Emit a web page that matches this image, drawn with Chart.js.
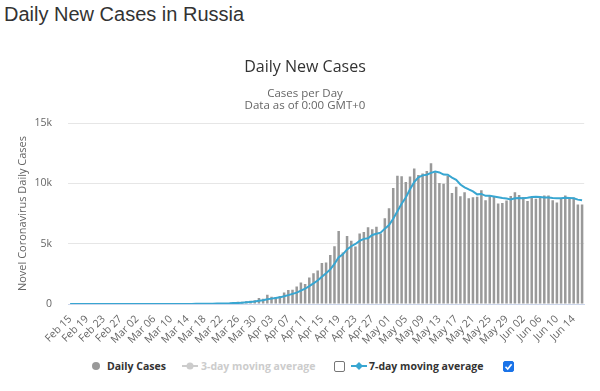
<!DOCTYPE html>
<html>
<head>
<meta charset="utf-8">
<script src="https://cdn.jsdelivr.net/npm/chart.js@4.4.1/dist/chart.umd.min.js"></script>
<style>
  body { margin:0; width:600px; height:391px; background:#fff; position:relative; overflow:hidden; font-family:'Open Sans',sans-serif; }
  #pageTitle { position:absolute; left:4px; top:4px; font:20px/20px 'Liberation Sans',Arial,sans-serif; color:#333; white-space:nowrap; }
  #chartTitle { position:absolute; left:0; top:56px; width:610px; text-align:center; font:16px/20px 'Open Sans',sans-serif; color:#333; }
  #chartSub { position:absolute; left:0; top:87px; width:610px; text-align:center; font:11.5px/11.7px 'Open Sans',sans-serif; color:#666; }
  #wrap { position:absolute; left:0; top:40px; width:600px; height:312px; }
  #legend { position:absolute; left:0; top:358px; width:600px; height:16px; font:bold 10.5px/16px 'Open Sans',sans-serif; }
  #legend > * { position:absolute; }
  .txt { top:0; white-space:nowrap; }
  .box { top:3px; width:9px; height:9px; border:1px solid #767676; border-radius:2px; background:#fff; }
  .box.on { border-color:#1a73e8; background:#1a73e8; }
</style>
</head>
<body>
<div id="pageTitle">Daily New Cases in Russia</div>
<div id="wrap"><canvas id="chart" width="600" height="312"></canvas></div>
<div id="chartTitle">Daily New Cases</div>
<div id="chartSub">Cases per Day<br>Data as of 0:00 GMT+0</div>
<div id="legend">
  <svg style="left:92px;top:4px" width="8" height="8"><circle cx="4" cy="4" r="4" fill="#999"/></svg>
  <span class="txt" style="left:107px;color:#333">Daily Cases</span>
  <svg style="left:182px;top:3px" width="16" height="10"><line x1="0" y1="5" x2="16" y2="5" stroke="#ccc" stroke-width="2"/><circle cx="8" cy="5" r="3.5" fill="#ccc"/></svg>
  <span class="txt" style="left:201px;color:#ccc">3-day moving average</span>
  <div class="box" style="left:334px"></div>
  <svg style="left:351px;top:3px" width="16" height="10"><line x1="0" y1="5" x2="16" y2="5" stroke="#38a6d1" stroke-width="2"/><path d="M8 1 L12 5 L8 9 L4 5 Z" fill="#38a6d1"/></svg>
  <span class="txt" style="left:369px;color:#333">7-day moving average</span>
  <div class="box on" style="left:503px"><svg width="9" height="9" style="position:absolute;left:0;top:0"><path d="M1.5 4.8 L3.7 7 L7.6 2.2" stroke="#fff" stroke-width="1.6" fill="none"/></svg></div>
</div>
<script>
// x categories, one per day
const dates = [
  'Feb 15','Feb 16','Feb 17','Feb 18','Feb 19','Feb 20','Feb 21','Feb 22','Feb 23','Feb 24','Feb 25','Feb 26','Feb 27','Feb 28','Feb 29',
  'Mar 01','Mar 02','Mar 03','Mar 04','Mar 05','Mar 06','Mar 07','Mar 08','Mar 09','Mar 10','Mar 11','Mar 12','Mar 13','Mar 14','Mar 15',
  'Mar 16','Mar 17','Mar 18','Mar 19','Mar 20','Mar 21','Mar 22','Mar 23','Mar 24','Mar 25','Mar 26','Mar 27','Mar 28','Mar 29','Mar 30','Mar 31',
  'Apr 01','Apr 02','Apr 03','Apr 04','Apr 05','Apr 06','Apr 07','Apr 08','Apr 09','Apr 10','Apr 11','Apr 12','Apr 13','Apr 14','Apr 15',
  'Apr 16','Apr 17','Apr 18','Apr 19','Apr 20','Apr 21','Apr 22','Apr 23','Apr 24','Apr 25','Apr 26','Apr 27','Apr 28','Apr 29','Apr 30',
  'May 01','May 02','May 03','May 04','May 05','May 06','May 07','May 08','May 09','May 10','May 11','May 12','May 13','May 14','May 15',
  'May 16','May 17','May 18','May 19','May 20','May 21','May 22','May 23','May 24','May 25','May 26','May 27','May 28','May 29','May 30','May 31',
  'Jun 01','Jun 02','Jun 03','Jun 04','Jun 05','Jun 06','Jun 07','Jun 08','Jun 09','Jun 10','Jun 11','Jun 12','Jun 13','Jun 14','Jun 15','Jun 16'
];

const dailyCases = [
  0,0,0,0,0,0,0,0,0,0,0,0,0,0,0,0,
  1,0,0,1,6,0,3,0,3,8,6,17,14,4,30,21,33,52,54,53,61,71,57,163,182,196,228,270,302,501,
  440,771,601,582,658,954,1154,1175,1459,1786,1667,2186,2558,2774,3388,3448,4070,4785,6060,4268,5642,5236,4774,5849,5966,6361,6198,6411,5841,7099,
  7933,9623,10633,10581,10102,10559,11231,10699,10817,11012,11656,10899,10028,9974,10598,9200,9709,8926,9263,8764,8849,8894,9434,8599,8946,8915,8338,8371,8572,8952,9268,
  9035,8863,8536,8831,8726,8855,8984,8985,8595,8404,8779,8987,8706,8835,8246,8248
];

const avg7 = [
  0,0,0,0,0,0,0,0,0,0,0,0,0,0,0,0,
  0,0,0,0,1,1,2,1,2,3,4,5,7,7,12,14,18,24,30,35,43,49,54,73,92,112,137,167,200,263,
  303,387,445,495,551,644,737,842,940,1110,1265,1483,1712,1944,2260,2544,2870,3316,3869,4113,4523,4787,4976,5231,5399,5442,5718,5828,5914,6246,
  6544,7067,7677,8303,8830,9504,10095,10490,10660,10714,10868,10982,10906,10726,10712,10481,10295,9905,9671,9491,9330,9086,9120,8961,8964,8914,8854,8785,8739,8670,8766,
  8779,8771,8800,8865,8887,8873,8833,8826,8787,8769,8761,8798,8777,8756,8650,8601
];

const yMax = 15000;
const yStep = 5000;
const LINE_COLOR = '#38a6d1';
const BAR_COLOR  = '#999999';

Chart.defaults.font.family = "'Open Sans', sans-serif";

new Chart(document.getElementById('chart'), {
  type: 'bar',
  data: {
    labels: dates,
    datasets: [
      { type:'line', label:'7-day moving average', data:avg7, borderColor:LINE_COLOR, borderWidth:2,
        pointRadius:0, tension:0, fill:false, order:0 },
      { type:'bar', label:'Daily Cases', data:dailyCases, backgroundColor:BAR_COLOR,
        categoryPercentage:1, barPercentage:0.6, order:1 }
    ]
  },
  options: {
    responsive: false,
    animation: false,
    layout: { padding: { left:0, right:5, top:83, bottom:0 } },
    plugins: {
      legend: { display:false },
      tooltip: { enabled:false }
    },
    scales: {
      x: {
        grid: { display:false, drawTicks:false },
        border: { color:'#ccd6eb' },
        ticks: {
          autoSkip:false, minRotation:45, maxRotation:45, padding:9, color:'#666', font:{ size:10.5 },
          callback(v, i) { return i % 4 === 0 ? this.getLabelForValue(v) : ''; }
        },
        afterFit(s) { s.height = 48; }
      },
      y: {
        min:0, max:yMax,
        grid: { color:'#e6e6e6', drawTicks:false },
        border: { display:false },
        ticks: { stepSize:yStep, padding:16, color:'#666', font:{ size:10.5 },
          callback: v => v === 0 ? '0' : (v / 1000) + 'k' },
        title: { display:true, text:'Novel Coronavirus Daily Cases', color:'#666',
          font:{ size:11 }, padding:{ top:16, bottom:0 } },
        afterFit(s) { s.width = 68; }
      }
    }
  }
});
</script>
</body>
</html>
